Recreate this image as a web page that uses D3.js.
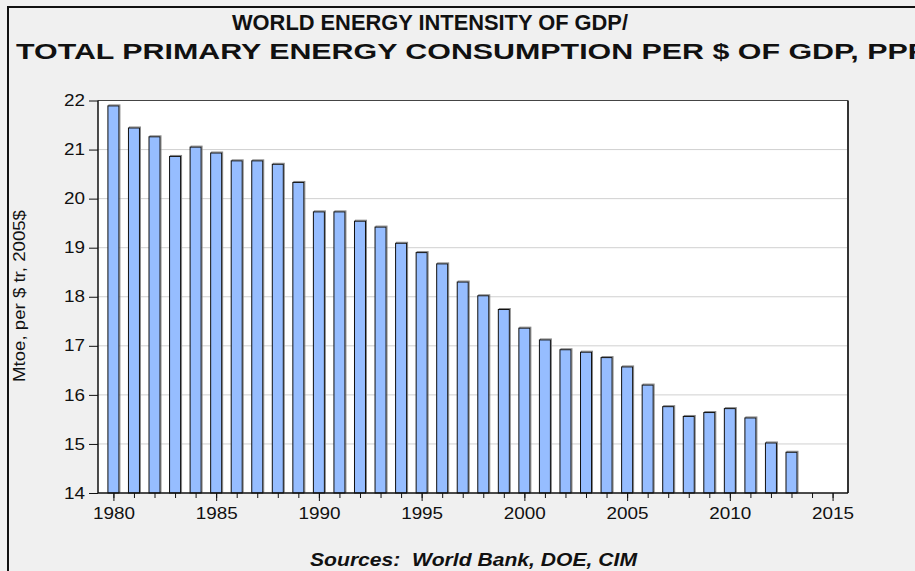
<!DOCTYPE html>
<html>
<head>
<meta charset="utf-8">
<script src="https://cdn.jsdelivr.net/npm/d3@7"></script>
<style>
  html, body { margin: 0; padding: 0; background: #f0f0f0; }
  svg { display: block; }
  text { font-family: "Liberation Sans", Arial, sans-serif; white-space: pre; }
</style>
</head>
<body>
<svg id="chart" width="915" height="571"></svg>
<script>
const titleLines = ["WORLD ENERGY INTENSITY OF GDP/", "TOTAL PRIMARY ENERGY CONSUMPTION PER $ OF GDP, PPP"];
const yLabel = "Mtoe, per $ tr, 2005$";
const sourceText = "Sources:  World Bank, DOE, CIM";
const years = [1980,1981,1982,1983,1984,1985,1986,1987,1988,1989,1990,1991,1992,1993,1994,1995,1996,1997,1998,1999,2000,2001,2002,2003,2004,2005,2006,2007,2008,2009,2010,2011,2012,2013];
const values = [21.89,21.44,21.26,20.86,21.05,20.93,20.77,20.77,20.70,20.33,19.73,19.73,19.54,19.42,19.09,18.90,18.67,18.30,18.02,17.74,17.36,17.12,16.92,16.87,16.76,16.57,16.20,15.76,15.56,15.64,15.72,15.53,15.02,14.83];
const yTicks = [14,15,16,17,18,19,20,21,22];
const xMajorTicks = [1980,1985,1990,1995,2000,2005,2010,2015];

const svg = d3.select("#chart");
const L = 98, R = 848, T = 100.5, B = 493;

const x = d3.scaleLinear().domain([1979.25, 2015.75]).range([L, R]);
const y = d3.scaleLinear().domain([14, 22]).range([B, T]);

// outer frame
svg.append("rect").attr("x", 8).attr("y", 7).attr("width", 1000).attr("height", 700)
  .attr("fill", "#f0f0f0").attr("stroke", "#111").attr("stroke-width", 2);

// titles
svg.append("text").attr("x", 232).attr("y", 30)
  .attr("font-size", 22).attr("font-weight", "bold").attr("fill", "#111")
  .attr("textLength", 396).attr("lengthAdjust", "spacingAndGlyphs")
  .text(titleLines[0]);
svg.append("text").attr("x", 16).attr("y", 58.5)
  .attr("font-size", 22).attr("font-weight", "bold").attr("fill", "#111")
  .attr("textLength", 912).attr("lengthAdjust", "spacingAndGlyphs")
  .text(titleLines[1]);

// plot background
svg.append("rect").attr("x", L).attr("y", T).attr("width", R - L).attr("height", B - T).attr("fill", "#fff");

// gridlines
svg.append("g").selectAll("line").data(yTicks.filter(d => d > 14 && d < 22)).join("line")
  .attr("x1", L).attr("x2", R).attr("y1", d => y(d)).attr("y2", d => y(d))
  .attr("stroke", "#d0d0d0").attr("stroke-width", 1);

// bars
const bw = 11;
const bars = svg.append("g");
bars.selectAll("rect.shadow").data(years).join("rect").attr("class", "shadow")
  .attr("x", d => x(d) - bw / 2 + 1).attr("y", (d, i) => y(values[i]) - 1)
  .attr("width", bw).attr("height", (d, i) => y(14) - y(values[i]))
  .attr("fill", "none").attr("stroke", "#888").attr("stroke-width", 1);
bars.selectAll("rect.bar").data(years).join("rect").attr("class", "bar")
  .attr("x", d => x(d) - bw / 2).attr("y", (d, i) => y(values[i]))
  .attr("width", bw).attr("height", (d, i) => y(14) - y(values[i]))
  .attr("fill", "#96bdff").attr("stroke", "#111").attr("stroke-width", 1);

// frame top/right
svg.append("line").attr("x1", L).attr("x2", R).attr("y1", T).attr("y2", T).attr("stroke", "#444").attr("stroke-width", 1.2);
svg.append("line").attr("x1", R).attr("x2", R).attr("y1", T).attr("y2", B).attr("stroke", "#333").attr("stroke-width", 2);

// y axis
const yAxis = d3.axisLeft(y).tickValues(yTicks).tickSize(9).tickPadding(4).tickFormat(d3.format("d"));
const gy = svg.append("g").attr("transform", `translate(${L},0)`).call(yAxis);
gy.select(".domain").attr("stroke", "#111").attr("stroke-width", 1.5).attr("d", `M0,${T}V${B}`);
gy.selectAll(".tick line").attr("stroke", "#111");
gy.selectAll(".tick text").attr("font-size", 16).attr("fill", "#111")
  .attr("font-family", "\"Liberation Sans\", Arial, sans-serif")
  .attr("textLength", 21).attr("lengthAdjust", "spacingAndGlyphs");

// x axis minor
const allYears = d3.range(1980, 2016);
const xMinor = d3.axisBottom(x).tickValues(allYears).tickSize(5).tickFormat("");
const gxm = svg.append("g").attr("transform", `translate(0,${B})`).call(xMinor);
gxm.select(".domain").remove();
gxm.selectAll(".tick line").attr("stroke", "#111");

// x axis major
const xAxis = d3.axisBottom(x).tickValues(xMajorTicks).tickSize(8).tickPadding(6).tickFormat(d3.format("d"));
const gx = svg.append("g").attr("transform", `translate(0,${B})`).call(xAxis);
gx.select(".domain").attr("stroke", "#111").attr("stroke-width", 1.5).attr("d", `M${L},0H${R}`);
gx.selectAll(".tick line").attr("stroke", "#111");
gx.selectAll(".tick text").attr("font-size", 17).attr("fill", "#111")
  .attr("font-family", "\"Liberation Sans\", Arial, sans-serif")
  .attr("textLength", 42).attr("lengthAdjust", "spacingAndGlyphs");

// y label
svg.append("text").attr("transform", "translate(25,296) rotate(-90)")
  .attr("text-anchor", "middle").attr("font-size", 17).attr("fill", "#111")
  .attr("textLength", 172).attr("lengthAdjust", "spacingAndGlyphs")
  .text(yLabel);

// source
svg.append("text").attr("x", 310).attr("y", 566)
  .attr("font-size", 18).attr("font-weight", "bold").attr("font-style", "italic").attr("fill", "#111")
  .attr("textLength", 327).attr("lengthAdjust", "spacingAndGlyphs")
  .text(sourceText);
</script>
</body>
</html>
